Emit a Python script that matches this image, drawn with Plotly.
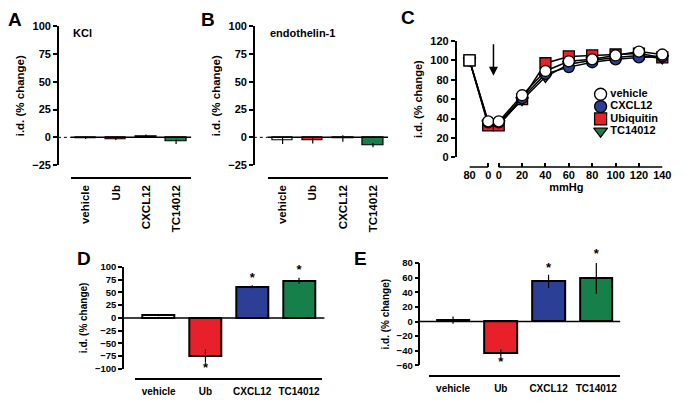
import plotly.graph_objects as go

W, H = 685, 401
FONT = "Liberation Sans, Arial, sans-serif"

# ---------------- data ----------------
CATEGORIES = ["vehicle", "Ub", "CXCL12", "TC14012"]
BAR_COLORS = ["#ffffff", "#e8202a", "#2b3f96", "#17804a"]

KCL_VALUES = [-0.5, -1.5, 1.0, -4.0]
KCL_ERRORS = [1.0, 1.0, 1.5, 2.0]

ET1_VALUES = [-3.0, -2.5, -1.0, -7.0]
ET1_ERRORS = [3.0, 3.0, 3.0, 2.0]

PRESSURE_LABELS = ["80", "0", "0", "20", "40", "60", "80", "100", "120", "140"]
PRESSURE_POS = [-25, -9, 0, 20, 40, 60, 80, 100, 120, 140]  # broken-axis positions
C_VEHICLE = [100, 37, 37, 64, 89, 99, 101, 105, 109, 106]
C_CXCL12 = [100, 36, 36, 61, 86, 93, 98, 101, 103, 104]
C_UBIQUITIN = [100, 33, 33, 60, 97, 104, 105, 106, 107, 103]
C_TC14012 = [100, 35, 35, 59, 83, 96, 100, 103, 105, 102]
C_LEGEND = ["vehicle", "CXCL12", "Ubiquitin", "TC14012"]

D_VALUES = [5, -75, 61, 73]
D_ERRORS = [2, 13, 3, 6]
D_SIG = [False, True, True, True]

E_VALUES = [2, -43, 55, 60]
E_ERRORS = [5, 5, 9, 22]
E_SIG = [False, True, True, True]

# ---------------- helpers ----------------
def px_x(p):
    return p / W


def px_y(p):
    return 1 - p / H


def yaxis(top, bottom, rng, dtick, pos, tsize, title_size, standoff):
    return dict(
        domain=[px_y(bottom), px_y(top)], range=rng, dtick=dtick,
        anchor="free", position=px_x(pos),
        showline=True, linecolor="black", linewidth=1.5,
        ticks="outside", ticklen=4, tickwidth=1.5, tickcolor="black",
        showgrid=False, zeroline=False,
        tickfont=dict(family=FONT, size=tsize, color="black", weight="bold"),
        title=dict(text="i.d. (% change)", standoff=standoff,
                   font=dict(family=FONT, size=title_size, color="black", weight="bold")),
    )


def star_axis(top, bottom, rng, extra_px):
    """Invisible overlay sharing the same pixel scale, extended upward for star labels."""
    scale = (rng[1] - rng[0]) / (bottom - top)
    return dict(domain=[px_y(bottom), px_y(top - extra_px)],
                range=[rng[0], rng[1] + extra_px * scale], visible=False,
                anchor="free", position=0)


def xcat(x0, x1, ypos, tsize, angle=0, standoff=2):
    return dict(
        domain=[px_x(x0), px_x(x1)], anchor="free", position=px_y(ypos),
        type="category", range=[-0.5, 3.5],
        showline=True, linecolor="black", linewidth=1.5, ticks="", ticklen=0,
        ticklabelstandoff=standoff,
        showgrid=False, zeroline=False, tickangle=angle,
        tickfont=dict(family=FONT, size=tsize, color="black", weight="bold"),
    )


fig = go.Figure()


def bar_panel(xa, ya, values, errors, width, lw, sig=None, star_ya=None, star_size=13):
    fig.add_trace(go.Bar(
        x=CATEGORIES, y=values, xaxis=xa, yaxis=ya, width=width,
        marker=dict(color=BAR_COLORS, line=dict(color="black", width=lw)),
        error_y=dict(type="data", array=errors, visible=True, color="black",
                     thickness=1.2, width=0),
        showlegend=False, hoverinfo="skip",
    ))
    if sig:
        xs, ys, pos = [], [], []
        for c, v, e, s in zip(CATEGORIES, values, errors, sig):
            if s:
                xs.append(c)
                ys.append(v + e if v >= 0 else v - e)
                pos.append("top center" if v >= 0 else "bottom center")
        fig.add_trace(go.Scatter(
            x=xs, y=ys, xaxis=xa, yaxis=star_ya or ya, mode="text", text=["*"] * len(xs),
            textposition=pos, cliponaxis=False,
            textfont=dict(family=FONT, size=star_size, color="black", weight="bold"),
            showlegend=False, hoverinfo="skip",
        ))


# Panels A, B
bar_panel("x", "y", KCL_VALUES, KCL_ERRORS, 0.68, 1.2)
bar_panel("x2", "y2", ET1_VALUES, ET1_ERRORS, 0.68, 1.2)

# Panel C
STYLE = {
    "vehicle": ("#ffffff", "circle"),
    "CXCL12": ("#2b3f96", "circle"),
    "Ubiquitin": ("#e8202a", "square"),
    "TC14012": ("#17804a", "triangle-down"),
}
c_series = [("TC14012", C_TC14012), ("Ubiquitin", C_UBIQUITIN),
            ("CXCL12", C_CXCL12), ("vehicle", C_VEHICLE)]
for name, vals in c_series:
    col, sym = STYLE[name]
    symbols = [sym] * len(vals)
    if name == "vehicle":
        symbols[0] = "square"
    fig.add_trace(go.Scatter(
        x=PRESSURE_POS, y=vals, xaxis="x3", yaxis="y3", mode="lines+markers",
        line=dict(color="black", width=1.5), cliponaxis=False,
        marker=dict(color=col, size=11, symbol=symbols, line=dict(color="black", width=1.3)),
        showlegend=False, hoverinfo="skip", name=name,
    ))

# key of panel C: symbols, then names to their right
n_leg = len(C_LEGEND)
fig.add_trace(go.Scatter(
    x=[0] * n_leg, y=list(range(n_leg)), xaxis="x6", yaxis="y6", mode="markers",
    marker=dict(color=[STYLE[n][0] for n in C_LEGEND],
                symbol=[STYLE[n][1] for n in C_LEGEND],
                size=12, line=dict(color="black", width=1.3)),
    cliponaxis=False, showlegend=False, hoverinfo="skip",
))
fig.add_trace(go.Scatter(
    x=[1.1] * n_leg, y=list(range(n_leg)), xaxis="x6", yaxis="y6",
    mode="text", text=C_LEGEND, textposition="middle right",
    textfont=dict(family=FONT, size=11, color="black", weight="bold"),
    cliponaxis=False, showlegend=False, hoverinfo="skip",
))

# Panels D, E
bar_panel("x4", "y4", D_VALUES, D_ERRORS, 0.68, 2, D_SIG, star_ya="y7")
bar_panel("x5", "y5", E_VALUES, E_ERRORS, 0.68, 2, E_SIG, star_ya="y8")

# ---------------- layout ----------------
k = 167 / 140.0  # px per mmHg on panel C
c_lo = -30 / k
c_hi = 140 + 1 / k

D_BOX = (269, 374, [-100, 100])
E_BOX = (265, 370.5, [-60, 80])

layout = dict(
    width=W, height=H, margin=dict(l=0, r=0, t=0, b=0),
    paper_bgcolor="white", plot_bgcolor="rgba(0,0,0,0)",
    font=dict(family=FONT, color="black"),
    bargap=0, showlegend=False,
    xaxis=xcat(66, 189, 177, 11.5, -90),
    yaxis=yaxis(21, 164, [-25, 100], 25, 53, 11, 11.5, 4),
    xaxis2=xcat(267, 390, 177, 11.5, -90),
    yaxis2=yaxis(21, 164, [-25, 100], 25, 253, 11, 11.5, 4),
    xaxis3=dict(
        domain=[px_x(473), px_x(671)], anchor="free", position=px_y(166),
        range=[c_lo, c_hi], tickvals=PRESSURE_POS, ticktext=PRESSURE_LABELS,
        ticks="inside", ticklen=4, tickwidth=1.5, tickcolor="black",
        showline=False, showgrid=False, zeroline=False,
        tickfont=dict(family=FONT, size=11, color="black", weight="bold"),
        title=dict(text="mmHg", standoff=2,
                   font=dict(family=FONT, size=11, color="black", weight="bold")),
    ),
    yaxis3=yaxis(36, 156, [0, 120], 20, 459, 11, 11, 4),
    xaxis4=xcat(132, 323, 385, 10, 0, 3),
    yaxis4=yaxis(D_BOX[0], D_BOX[1], D_BOX[2], 25, 119.5, 9.5, 10, 4),
    xaxis5=xcat(432, 627, 381.5, 10, 0, 3),
    yaxis5=yaxis(E_BOX[0], E_BOX[1], E_BOX[2], 20, 422, 9.5, 10, 4),
    yaxis7=star_axis(D_BOX[0], D_BOX[1], D_BOX[2], 20),
    yaxis8=star_axis(E_BOX[0], E_BOX[1], E_BOX[2], 20),
    xaxis6=dict(domain=[px_x(598), 1.0], range=[-1, (685 - 598) / 9.0 - 1],
                visible=False, anchor="y6"),
    yaxis6=dict(domain=[px_y(135.4), px_y(84.6)], range=[3.5, -0.5],
                visible=False, anchor="x6"),
)
fig.update_layout(**layout)

# zero lines (dotted stub next to the axis on A and B)
for ya, ax_px, x0_px, x1_px in [("y", 53, 66, 189), ("y2", 253, 267, 390)]:
    fig.add_shape(type="line", xref="paper", yref=ya, x0=px_x(ax_px), x1=px_x(x0_px),
                  y0=0, y1=0, line=dict(color="black", width=1, dash="dot"), layer="above")
    fig.add_shape(type="line", xref="paper", yref=ya, x0=px_x(x0_px), x1=px_x(x1_px),
                  y0=0, y1=0, line=dict(color="black", width=1.5), layer="above")
for ya, x0_px, x1_px in [("y4", 119.5, 325), ("y5", 422, 627)]:
    fig.add_shape(type="line", xref="paper", yref=ya, x0=px_x(x0_px), x1=px_x(x1_px),
                  y0=0, y1=0, line=dict(color="black", width=1.5), layer="above")

# broken x-axis line for C
for a, b in [(PRESSURE_POS[0], PRESSURE_POS[1]), (PRESSURE_POS[2], PRESSURE_POS[-1])]:
    fig.add_shape(type="line", xref="x3", yref="paper", x0=a, x1=b,
                  y0=px_y(166), y1=px_y(166), line=dict(color="black", width=1.5))

# arrow in C
fig.add_annotation(x=-4.5, y=84, ax=-4.5, ay=118, xref="x3", yref="y3",
                   axref="x3", ayref="y3", text="", showarrow=True,
                   arrowhead=2, arrowsize=1.2, arrowwidth=1.5, arrowcolor="black")

letters = [("A", 0, 1), ("B", 197, 1), ("C", 401, -1), ("D", 70, 247), ("E", 353, 247)]
for t, x, y in letters:
    fig.add_annotation(text=t, x=px_x(x), y=px_y(y), xref="paper", yref="paper",
                       xanchor="left", yanchor="top", showarrow=False,
                       font=dict(family=FONT, size=19, color="black", weight="bold"))
for t, x, y in [("KCl", 66, 28), ("endothelin-1", 267, 28)]:
    fig.add_annotation(text=t, x=px_x(x), y=px_y(y), xref="paper", yref="paper",
                       xanchor="left", yanchor="middle", showarrow=False,
                       font=dict(family=FONT, size=11, color="black", weight="bold"))

fig.write_html("out.html", config={"displayModeBar": False},
               post_script="document.body.style.margin='0';")
